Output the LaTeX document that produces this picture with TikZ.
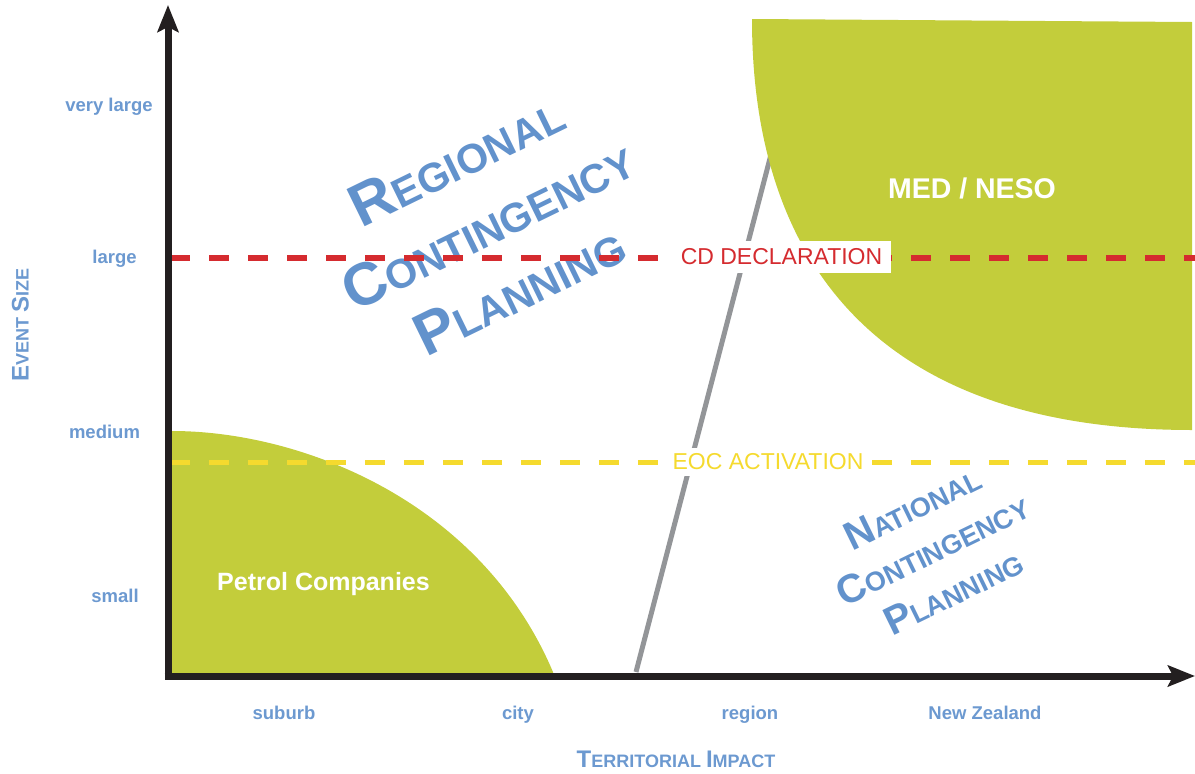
\documentclass[tikz,border=0pt]{standalone}
\usepackage{fontspec}
\setmainfont{Liberation Sans}
\usetikzlibrary{arrows.meta}
\definecolor{axisblack}{RGB}{35,31,32}
\definecolor{lblblue}{RGB}{108,153,208}
\definecolor{bigblue}{RGB}{98,146,204}
\definecolor{leaf}{RGB}{195,205,59}
\definecolor{cdred}{RGB}{213,43,47}
\definecolor{eocyellow}{RGB}{245,218,46}
\definecolor{divgray}{RGB}{147,149,152}
\newcommand{\fsz}[1]{\fontsize{#1}{#1}\selectfont}
\begin{document}
\begin{tikzpicture}[x=1pt,y=-1pt,
  axisline/.style={line width=7pt, draw=axisblack},
  axtip/.style={-{Stealth[length=27pt,width=21pt,inset=5pt]}},
  ylab/.style={text=lblblue, font=\fsz{18.5}\bfseries, inner sep=0pt, anchor=base},
  xlab/.style={text=lblblue, font=\fsz{18.5}\bfseries, inner sep=0pt, anchor=base},
  axtitle/.style={text=lblblue, font=\bfseries, inner sep=0pt, anchor=base},
  bigtxt/.style={text=bigblue, font=\bfseries, inner sep=0pt, anchor=base},
  whitetxt/.style={text=white, font=\bfseries, inner sep=0pt, anchor=base},
  dashline/.style={dash pattern=on 20pt off 19pt},
  levelbox/.style={fill=white, inner sep=0pt, font=\fsz{23}},
]
\useasboundingbox (0,0) rectangle (1195,774);

% named points
\coordinate (O) at (168,676);
\coordinate (ytip) at (168,5);
\coordinate (xstart) at (164.5,676);
\coordinate (xtip) at (1195,676);
\coordinate (gbot) at (636,672);
\coordinate (gtop) at (780,120);
\coordinate (cdL) at (170,258);
\coordinate (cdR) at (1195,258);
\coordinate (eocL) at (170,462);
\coordinate (eocR) at (1195,462);

% green areas
\fill[leaf] (168,676) -- (168,431) -- (172,431) .. controls (300,431) and (480,500) .. (553,672) -- (553,676) -- cycle;
\draw[divgray, line width=5pt] (gbot) -- (gtop);
\fill[leaf] (752,19) -- (1192,22) -- (1192,430) .. controls (800,430) and (752,170) .. (752,19) -- cycle;

% big diagonal labels
\node[bigtxt, rotate=26] (reg1) at (465.1,178.3) {\fsz{60}R\fsz{41}EGIONAL};
\node[bigtxt, rotate=26] (reg2) at (496.7,243.1) {\fsz{60}C\fsz{41}ONTINGENCY};
\node[bigtxt, rotate=26] (reg3) at (528.2,307.8) {\fsz{60}P\fsz{41}LANNING};

\node[bigtxt, rotate=26] (nat1) at (918.2,519.3) {\fsz{40}N\fsz{27}ATIONAL};
\node[bigtxt, rotate=26] (nat2) at (938.8,561.6) {\fsz{40}C\fsz{27}ONTINGENCY};
\node[bigtxt, rotate=26] (nat3) at (959.4,603.8) {\fsz{40}P\fsz{27}LANNING};

% dashed levels
\draw[cdred, line width=6pt, dashline] (cdL) -- (cdR);
\draw[eocyellow, line width=5pt, dashline] (eocL) -- (eocR);

\node[levelbox, text=cdred, minimum width=219pt, minimum height=32pt] (cd) at (781.5,257) {CD DECLARATION};
\node[levelbox, text=eocyellow, minimum width=206pt, minimum height=28pt] (eoc) at (768,462) {EOC ACTIVATION};

% region names
\node[whitetxt, font=\fsz{25}\bfseries] (petrol) at (323.5,590) {Petrol Companies};
\node[whitetxt, font=\fsz{28.5}\bfseries] (med) at (972,198) {MED / NESO};

% axes
\draw[axisline, axtip] (168,679.5) -- (ytip);
\draw[axisline, axtip] (xstart) -- (xtip);

% axis labels
\node[ylab] (vlarge) at (109,111) {very large};
\node[ylab] (large) at (114.5,263) {large};
\node[ylab] (medium) at (104.5,438) {medium};
\node[ylab] (small) at (115,602) {small};

\node[xlab] (suburb) at (284,719) {suburb};
\node[xlab] (city) at (518,719) {city};
\node[xlab] (region) at (750,719) {region};
\node[xlab] (nz) at (985,719) {New Zealand};

\node[axtitle] (ttl) at (676,767) {\fsz{24}T\fsz{18}ERRITORIAL \fsz{24}I\fsz{18}MPACT};
\node[axtitle, rotate=90] (evs) at (28.5,325) {\fsz{24}E\fsz{18}VENT \fsz{24}S\fsz{18}IZE};
\end{tikzpicture}
\end{document}
